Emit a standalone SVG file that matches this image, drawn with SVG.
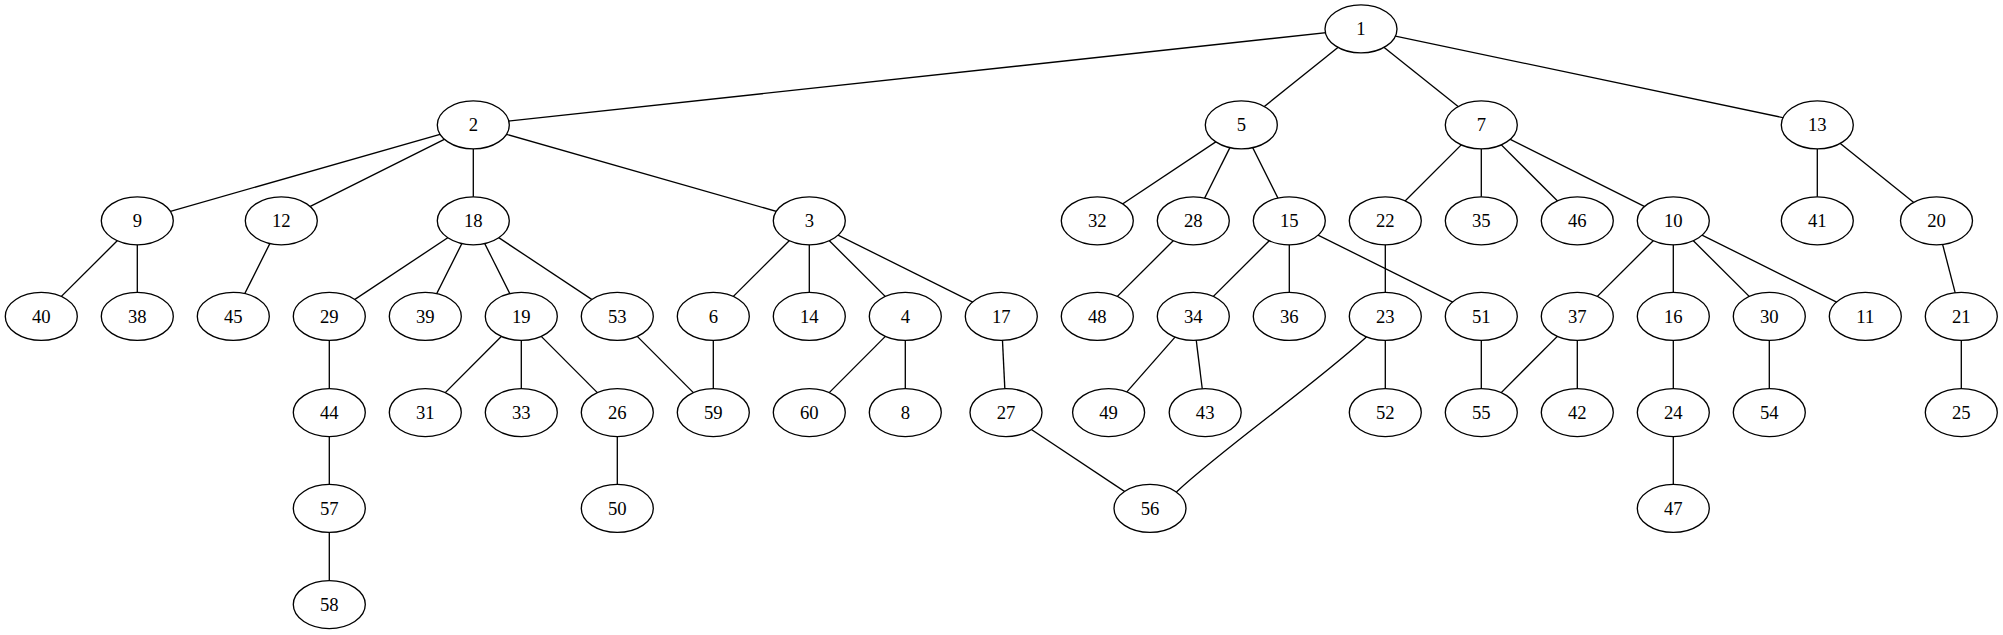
<svg xmlns="http://www.w3.org/2000/svg" width="2003" height="635" viewBox="0 0 2003 635">
<style>
.e{stroke:#000;stroke-width:1.33;fill:none}
.n ellipse{fill:#fff;stroke:#000;stroke-width:1.33}
.n text{font-family:"Liberation Serif","Times New Roman",serif;font-size:18.67px;text-anchor:middle;fill:#000}
</style>
<rect width="2003" height="635" fill="#fff"/>
<g id="edges" class="e">
<line x1="1361" y1="28.9" x2="473.3" y2="124.9"/>
<line x1="1361" y1="28.9" x2="1241.3" y2="124.9"/>
<line x1="1361" y1="28.9" x2="1481.3" y2="124.9"/>
<line x1="1361" y1="28.9" x2="1817.3" y2="124.9"/>
<line x1="473.3" y1="124.9" x2="137.3" y2="220.8"/>
<line x1="473.3" y1="124.9" x2="281.3" y2="220.8"/>
<line x1="473.3" y1="124.9" x2="473.3" y2="220.8"/>
<line x1="473.3" y1="124.9" x2="809.3" y2="220.8"/>
<line x1="1241.3" y1="124.9" x2="1097.3" y2="220.8"/>
<line x1="1241.3" y1="124.9" x2="1193.3" y2="220.8"/>
<line x1="1241.3" y1="124.9" x2="1289.3" y2="220.8"/>
<line x1="1481.3" y1="124.9" x2="1385.3" y2="220.8"/>
<line x1="1481.3" y1="124.9" x2="1481.3" y2="220.8"/>
<line x1="1481.3" y1="124.9" x2="1577.3" y2="220.8"/>
<line x1="1481.3" y1="124.9" x2="1673.3" y2="220.8"/>
<line x1="1817.3" y1="124.9" x2="1817.3" y2="220.8"/>
<line x1="1817.3" y1="124.9" x2="1936.5" y2="220.8"/>
<line x1="137.3" y1="220.8" x2="41.3" y2="316.4"/>
<line x1="137.3" y1="220.8" x2="137.3" y2="316.4"/>
<line x1="281.3" y1="220.8" x2="233.3" y2="316.4"/>
<line x1="473.3" y1="220.8" x2="329.3" y2="316.4"/>
<line x1="473.3" y1="220.8" x2="425.3" y2="316.4"/>
<line x1="473.3" y1="220.8" x2="521.3" y2="316.4"/>
<line x1="473.3" y1="220.8" x2="617.3" y2="316.4"/>
<line x1="809.3" y1="220.8" x2="713.3" y2="316.4"/>
<line x1="809.3" y1="220.8" x2="809.3" y2="316.4"/>
<line x1="809.3" y1="220.8" x2="905.3" y2="316.4"/>
<line x1="809.3" y1="220.8" x2="1001.3" y2="316.4"/>
<line x1="1193.3" y1="220.8" x2="1097.3" y2="316.4"/>
<line x1="1289.3" y1="220.8" x2="1193.3" y2="316.4"/>
<line x1="1289.3" y1="220.8" x2="1289.3" y2="316.4"/>
<line x1="1289.3" y1="220.8" x2="1481.3" y2="316.4"/>
<line x1="1385.3" y1="220.8" x2="1385.3" y2="316.4"/>
<line x1="1673.3" y1="220.8" x2="1577.3" y2="316.4"/>
<line x1="1673.3" y1="220.8" x2="1673.3" y2="316.4"/>
<line x1="1673.3" y1="220.8" x2="1769.3" y2="316.4"/>
<line x1="1673.3" y1="220.8" x2="1865.3" y2="316.4"/>
<line x1="1936.5" y1="220.8" x2="1961.3" y2="316.4"/>
<line x1="329.3" y1="316.4" x2="329.3" y2="412.6"/>
<line x1="521.3" y1="316.4" x2="425.3" y2="412.6"/>
<line x1="521.3" y1="316.4" x2="521.3" y2="412.6"/>
<line x1="521.3" y1="316.4" x2="617.3" y2="412.6"/>
<line x1="617.3" y1="316.4" x2="713.3" y2="412.6"/>
<line x1="713.3" y1="316.4" x2="713.3" y2="412.6"/>
<line x1="905.3" y1="316.4" x2="809.3" y2="412.6"/>
<line x1="905.3" y1="316.4" x2="905.3" y2="412.6"/>
<line x1="1001.3" y1="316.4" x2="1006" y2="412.6"/>
<line x1="1193.3" y1="316.4" x2="1108.6" y2="412.6"/>
<line x1="1193.3" y1="316.4" x2="1205.2" y2="412.6"/>
<line x1="1385.3" y1="316.4" x2="1385.3" y2="412.6"/>
<path d="M1385.3,316.4 L1365,338.3 C1310,388 1225,447 1176.7,491.7 L1150,508.4"/>
<line x1="1481.3" y1="316.4" x2="1481.3" y2="412.6"/>
<line x1="1577.3" y1="316.4" x2="1481.3" y2="412.6"/>
<line x1="1577.3" y1="316.4" x2="1577.3" y2="412.6"/>
<line x1="1673.3" y1="316.4" x2="1673.3" y2="412.6"/>
<line x1="1769.3" y1="316.4" x2="1769.3" y2="412.6"/>
<line x1="1961.3" y1="316.4" x2="1961.3" y2="412.6"/>
<line x1="329.3" y1="412.6" x2="329.3" y2="508.4"/>
<line x1="617.3" y1="412.6" x2="617.3" y2="508.4"/>
<line x1="1006" y1="412.6" x2="1150" y2="508.4"/>
<line x1="1673.3" y1="412.6" x2="1673.3" y2="508.4"/>
<line x1="329.3" y1="508.4" x2="329.3" y2="604.6"/>
</g>
<g id="n1" class="n"><ellipse cx="1361" cy="28.9" rx="36" ry="24"/><text x="1361" y="35">1</text></g>
<g id="n2" class="n"><ellipse cx="473.3" cy="124.9" rx="36" ry="24"/><text x="473.3" y="131">2</text></g>
<g id="n5" class="n"><ellipse cx="1241.3" cy="124.9" rx="36" ry="24"/><text x="1241.3" y="131">5</text></g>
<g id="n7" class="n"><ellipse cx="1481.3" cy="124.9" rx="36" ry="24"/><text x="1481.3" y="131">7</text></g>
<g id="n13" class="n"><ellipse cx="1817.3" cy="124.9" rx="36" ry="24"/><text x="1817.3" y="131">13</text></g>
<g id="n9" class="n"><ellipse cx="137.3" cy="220.8" rx="36" ry="24"/><text x="137.3" y="227">9</text></g>
<g id="n12" class="n"><ellipse cx="281.3" cy="220.8" rx="36" ry="24"/><text x="281.3" y="227">12</text></g>
<g id="n18" class="n"><ellipse cx="473.3" cy="220.8" rx="36" ry="24"/><text x="473.3" y="227">18</text></g>
<g id="n3" class="n"><ellipse cx="809.3" cy="220.8" rx="36" ry="24"/><text x="809.3" y="227">3</text></g>
<g id="n32" class="n"><ellipse cx="1097.3" cy="220.8" rx="36" ry="24"/><text x="1097.3" y="227">32</text></g>
<g id="n28" class="n"><ellipse cx="1193.3" cy="220.8" rx="36" ry="24"/><text x="1193.3" y="227">28</text></g>
<g id="n15" class="n"><ellipse cx="1289.3" cy="220.8" rx="36" ry="24"/><text x="1289.3" y="227">15</text></g>
<g id="n22" class="n"><ellipse cx="1385.3" cy="220.8" rx="36" ry="24"/><text x="1385.3" y="227">22</text></g>
<g id="n35" class="n"><ellipse cx="1481.3" cy="220.8" rx="36" ry="24"/><text x="1481.3" y="227">35</text></g>
<g id="n46" class="n"><ellipse cx="1577.3" cy="220.8" rx="36" ry="24"/><text x="1577.3" y="227">46</text></g>
<g id="n10" class="n"><ellipse cx="1673.3" cy="220.8" rx="36" ry="24"/><text x="1673.3" y="227">10</text></g>
<g id="n41" class="n"><ellipse cx="1817.3" cy="220.8" rx="36" ry="24"/><text x="1817.3" y="227">41</text></g>
<g id="n20" class="n"><ellipse cx="1936.5" cy="220.8" rx="36" ry="24"/><text x="1936.5" y="227">20</text></g>
<g id="n40" class="n"><ellipse cx="41.3" cy="316.4" rx="36" ry="24"/><text x="41.3" y="322.5">40</text></g>
<g id="n38" class="n"><ellipse cx="137.3" cy="316.4" rx="36" ry="24"/><text x="137.3" y="322.5">38</text></g>
<g id="n45" class="n"><ellipse cx="233.3" cy="316.4" rx="36" ry="24"/><text x="233.3" y="322.5">45</text></g>
<g id="n29" class="n"><ellipse cx="329.3" cy="316.4" rx="36" ry="24"/><text x="329.3" y="322.5">29</text></g>
<g id="n39" class="n"><ellipse cx="425.3" cy="316.4" rx="36" ry="24"/><text x="425.3" y="322.5">39</text></g>
<g id="n19" class="n"><ellipse cx="521.3" cy="316.4" rx="36" ry="24"/><text x="521.3" y="322.5">19</text></g>
<g id="n53" class="n"><ellipse cx="617.3" cy="316.4" rx="36" ry="24"/><text x="617.3" y="322.5">53</text></g>
<g id="n6" class="n"><ellipse cx="713.3" cy="316.4" rx="36" ry="24"/><text x="713.3" y="322.5">6</text></g>
<g id="n14" class="n"><ellipse cx="809.3" cy="316.4" rx="36" ry="24"/><text x="809.3" y="322.5">14</text></g>
<g id="n4" class="n"><ellipse cx="905.3" cy="316.4" rx="36" ry="24"/><text x="905.3" y="322.5">4</text></g>
<g id="n17" class="n"><ellipse cx="1001.3" cy="316.4" rx="36" ry="24"/><text x="1001.3" y="322.5">17</text></g>
<g id="n48" class="n"><ellipse cx="1097.3" cy="316.4" rx="36" ry="24"/><text x="1097.3" y="322.5">48</text></g>
<g id="n34" class="n"><ellipse cx="1193.3" cy="316.4" rx="36" ry="24"/><text x="1193.3" y="322.5">34</text></g>
<g id="n36" class="n"><ellipse cx="1289.3" cy="316.4" rx="36" ry="24"/><text x="1289.3" y="322.5">36</text></g>
<g id="n23" class="n"><ellipse cx="1385.3" cy="316.4" rx="36" ry="24"/><text x="1385.3" y="322.5">23</text></g>
<g id="n51" class="n"><ellipse cx="1481.3" cy="316.4" rx="36" ry="24"/><text x="1481.3" y="322.5">51</text></g>
<g id="n37" class="n"><ellipse cx="1577.3" cy="316.4" rx="36" ry="24"/><text x="1577.3" y="322.5">37</text></g>
<g id="n16" class="n"><ellipse cx="1673.3" cy="316.4" rx="36" ry="24"/><text x="1673.3" y="322.5">16</text></g>
<g id="n30" class="n"><ellipse cx="1769.3" cy="316.4" rx="36" ry="24"/><text x="1769.3" y="322.5">30</text></g>
<g id="n11" class="n"><ellipse cx="1865.3" cy="316.4" rx="36" ry="24"/><text x="1865.3" y="322.5">11</text></g>
<g id="n21" class="n"><ellipse cx="1961.3" cy="316.4" rx="36" ry="24"/><text x="1961.3" y="322.5">21</text></g>
<g id="n44" class="n"><ellipse cx="329.3" cy="412.6" rx="36" ry="24"/><text x="329.3" y="418.7">44</text></g>
<g id="n31" class="n"><ellipse cx="425.3" cy="412.6" rx="36" ry="24"/><text x="425.3" y="418.7">31</text></g>
<g id="n33" class="n"><ellipse cx="521.3" cy="412.6" rx="36" ry="24"/><text x="521.3" y="418.7">33</text></g>
<g id="n26" class="n"><ellipse cx="617.3" cy="412.6" rx="36" ry="24"/><text x="617.3" y="418.7">26</text></g>
<g id="n59" class="n"><ellipse cx="713.3" cy="412.6" rx="36" ry="24"/><text x="713.3" y="418.7">59</text></g>
<g id="n60" class="n"><ellipse cx="809.3" cy="412.6" rx="36" ry="24"/><text x="809.3" y="418.7">60</text></g>
<g id="n8" class="n"><ellipse cx="905.3" cy="412.6" rx="36" ry="24"/><text x="905.3" y="418.7">8</text></g>
<g id="n27" class="n"><ellipse cx="1006" cy="412.6" rx="36" ry="24"/><text x="1006" y="418.7">27</text></g>
<g id="n49" class="n"><ellipse cx="1108.6" cy="412.6" rx="36" ry="24"/><text x="1108.6" y="418.7">49</text></g>
<g id="n43" class="n"><ellipse cx="1205.2" cy="412.6" rx="36" ry="24"/><text x="1205.2" y="418.7">43</text></g>
<g id="n52" class="n"><ellipse cx="1385.3" cy="412.6" rx="36" ry="24"/><text x="1385.3" y="418.7">52</text></g>
<g id="n55" class="n"><ellipse cx="1481.3" cy="412.6" rx="36" ry="24"/><text x="1481.3" y="418.7">55</text></g>
<g id="n42" class="n"><ellipse cx="1577.3" cy="412.6" rx="36" ry="24"/><text x="1577.3" y="418.7">42</text></g>
<g id="n24" class="n"><ellipse cx="1673.3" cy="412.6" rx="36" ry="24"/><text x="1673.3" y="418.7">24</text></g>
<g id="n54" class="n"><ellipse cx="1769.3" cy="412.6" rx="36" ry="24"/><text x="1769.3" y="418.7">54</text></g>
<g id="n25" class="n"><ellipse cx="1961.3" cy="412.6" rx="36" ry="24"/><text x="1961.3" y="418.7">25</text></g>
<g id="n57" class="n"><ellipse cx="329.3" cy="508.4" rx="36" ry="24"/><text x="329.3" y="514.5">57</text></g>
<g id="n50" class="n"><ellipse cx="617.3" cy="508.4" rx="36" ry="24"/><text x="617.3" y="514.5">50</text></g>
<g id="n56" class="n"><ellipse cx="1150" cy="508.4" rx="36" ry="24"/><text x="1150" y="514.5">56</text></g>
<g id="n47" class="n"><ellipse cx="1673.3" cy="508.4" rx="36" ry="24"/><text x="1673.3" y="514.5">47</text></g>
<g id="n58" class="n"><ellipse cx="329.3" cy="604.6" rx="36" ry="24"/><text x="329.3" y="610.7">58</text></g>
</svg>
